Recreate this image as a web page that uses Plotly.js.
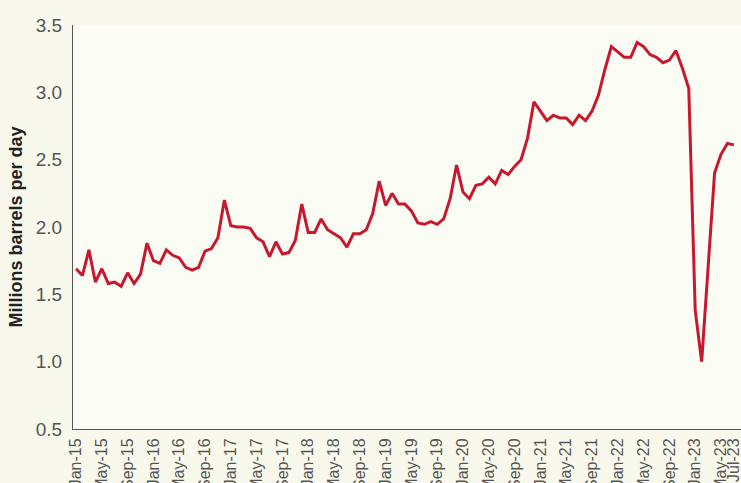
<!DOCTYPE html>
<html>
<head>
<meta charset="utf-8">
<script src="https://cdn.plot.ly/plotly-3.0.1.min.js"></script>
<style>
html,body{margin:0;padding:0;background:#f8f9ec;}
#chart{width:741px;height:483px;}
</style>
</head>
<body>
<div id="chart"></div>
<script>
// Monthly series, Jan-15 .. Jul-23 (millions of barrels per day)
const startYear = 2015;
const monthNames = ["Jan","Feb","Mar","Apr","May","Jun","Jul","Aug","Sep","Oct","Nov","Dec"];

const values = [
  1.69, 1.64, 1.83, 1.59, 1.69, 1.58, 1.59, 1.56, 1.66, 1.58, 1.65, 1.88,
  1.75, 1.73, 1.83, 1.79, 1.77, 1.70, 1.68, 1.70, 1.82, 1.84, 1.92, 2.20,
  2.01, 2.00, 2.00, 1.99, 1.92, 1.89, 1.78, 1.89, 1.80, 1.81, 1.90, 2.17,
  1.96, 1.96, 2.06, 1.98, 1.95, 1.92, 1.85, 1.95, 1.95, 1.98, 2.10, 2.34,
  2.16, 2.25, 2.17, 2.17, 2.12, 2.03, 2.02, 2.04, 2.02, 2.06, 2.21, 2.46,
  2.26, 2.21, 2.31, 2.32, 2.37, 2.32, 2.42, 2.39, 2.45, 2.50, 2.66, 2.93,
  2.86, 2.79, 2.83, 2.81, 2.81, 2.76, 2.83, 2.79, 2.86, 2.98, 3.17, 3.34,
  3.30, 3.26, 3.26, 3.37, 3.34, 3.28, 3.26, 3.22, 3.24, 3.31, 3.18, 3.03,
  1.38, 1.00, 1.70, 2.40, 2.54, 2.62, 2.61
];

const categories = values.map((_, i) => {
  const y = startYear + Math.floor(i / 12);
  return monthNames[i % 12] + "-" + String(y).slice(2);
});

// Tick labels: every fourth month plus the final month
const tickLabels = ["Jan-15","May-15","Sep-15","Jan-16","May-16","Sep-16","Jan-17","May-17","Sep-17",
  "Jan-18","May-18","Sep-18","Jan-19","May-19","Sep-19","Jan-20","May-20","Sep-20",
  "Jan-21","May-21","Sep-21","Jan-22","May-22","Sep-22","Jan-23","May-23","Jul-23"];

const yTicks = [0.5, 1.0, 1.5, 2.0, 2.5, 3.0, 3.5];

const xIdx = categories.map((_, i) => i);
const tickIdx = tickLabels.map(t => categories.indexOf(t));

const font = "'Liberation Sans', Arial, sans-serif";

const trace = {
  x: xIdx,
  y: values,
  text: categories,
  type: "scatter",
  mode: "lines",
  line: {color: "#c6192f", width: 3},
  hovertemplate: "%{text}: %{y:.2f}<extra></extra>"
};

const layout = {
  width: 741,
  height: 483,
  margin: {l: 73, r: 0, t: 25, b: 54},
  paper_bgcolor: "#f8f9ec",
  plot_bgcolor: "#fbfcf3",
  showlegend: false,
  font: {family: font, color: "#555"},
  xaxis: {
    range: [-0.47, 103.1],
    tickmode: "array",
    tickvals: tickIdx,
    ticktext: tickLabels,
    tickangle: -90,
    tickfont: {family: font, size: 16, color: "#555"},
    ticklabeloverflow: "allow",
    ticklabelstandoff: 2,
    showgrid: false,
    zeroline: false,
    showline: true,
    linecolor: "#555",
    linewidth: 1,
    ticks: "",
    fixedrange: true
  },
  yaxis: {
    range: [0.5, 3.5],
    tickvals: yTicks,
    ticktext: yTicks.map(v => v.toFixed(1)),
    tickfont: {family: font, size: 19, color: "#555"},
    showgrid: false,
    zeroline: false,
    showline: true,
    linecolor: "#555",
    linewidth: 1,
    ticks: "",
    ticklabelstandoff: 6,
    title: {text: "<b>Millions barrels per day</b>", font: {family: font, size: 18, color: "#222"}, standoff: 8},
    fixedrange: true
  }
};

Plotly.newPlot("chart", [trace], layout, {displayModeBar: false, staticPlot: true});
</script>
</body>
</html>
